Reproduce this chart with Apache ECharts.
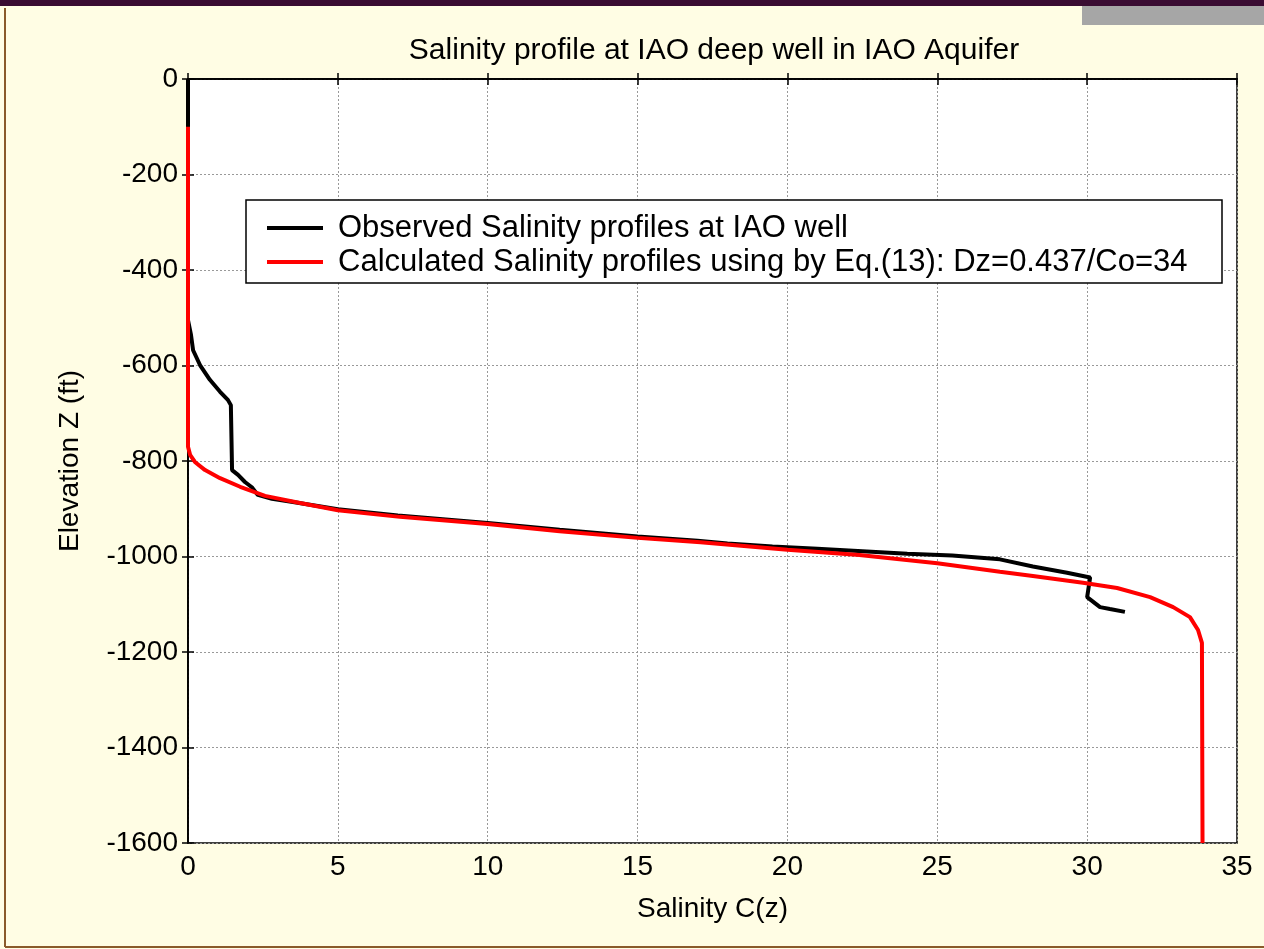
<!DOCTYPE html>
<html>
<head>
<meta charset="utf-8">
<script src="https://cdn.jsdelivr.net/npm/echarts@6/dist/echarts.min.js"></script>
<style>
  html, body { margin: 0; padding: 0; background: #fffde4; }
  #chart { width: 1264px; height: 949px; }
</style>
</head>
<body>
<div id="chart"></div>
<script>
// Salinity C(z) vs elevation Z (ft)
const observed = [
  [0, 0], [0, -505], [0.1, -536], [0.17, -568], [0.4, -599], [0.73, -630],
  [1.07, -655], [1.33, -672], [1.43, -683], [1.47, -819], [1.67, -829],
  [1.9, -844], [2.13, -855], [2.33, -871], [2.8, -879], [3.5, -886],
  [5, -901], [7, -914], [8.5, -922], [10, -930], [12.4, -944], [15, -958],
  [17, -967], [18, -973], [19.5, -979], [21, -984], [22.5, -989], [24, -994],
  [25.5, -998], [27.09, -1006], [28.19, -1021], [29.33, -1034], [30.1, -1044],
  [30.0, -1085], [30.43, -1106], [30.76, -1110], [31.26, -1116]
];
const calculated = [
  [0, -100], [0, -770], [0.07, -787], [0.23, -802], [0.57, -819],
  [1.07, -836], [1.74, -854], [2.57, -873], [3.74, -888], [5, -903],
  [7.07, -917], [10, -932], [12.4, -947], [15, -961], [17.1, -970],
  [20, -986], [22.4, -997], [25, -1014], [27.09, -1032], [28.19, -1041],
  [29.86, -1055], [31, -1066], [32.1, -1085], [32.87, -1106],
  [33.43, -1127], [33.7, -1154], [33.83, -1181], [33.85, -1600]
];
const seriesNames = [
  'Observed Salinity profiles at IAO well',
  'Calculated Salinity profiles using by Eq.(13): Dz=0.437/Co=34'
];

const font = 'Liberation Sans, Arial, sans-serif';
const chart = echarts.init(document.getElementById('chart'));

const tickStyle = { show: true, inside: true, length: 6, lineStyle: { color: '#000', width: 1.5 } };

chart.setOption({
  backgroundColor: '#fffde4',
  animation: false,
  title: {
    text: 'Salinity profile at IAO deep well in IAO Aquifer',
    left: 709, top: 31, textAlign: 'center',
    textStyle: { fontFamily: font, fontSize: 30, fontWeight: 'normal', color: '#000' }
  },
  grid: {
    left: 188, top: 79, width: 1049, height: 764,
    show: true, backgroundColor: '#fff', borderColor: '#000', borderWidth: 1.5
  },
  legend: {
    orient: 'vertical', left: 262, top: 207, z: 6,
    itemWidth: 56, itemHeight: 4, itemGap: 2, icon: 'rect',
    data: seriesNames,
    textStyle: { fontFamily: font, fontSize: 31, color: '#000', lineHeight: 32, padding: [0, 0, 0, 10] }
  },
  xAxis: [{
    type: 'value', min: 0, max: 35, interval: 5, position: 'bottom',
    name: 'Salinity C(z)', nameLocation: 'middle', nameGap: 52,
    nameTextStyle: { fontFamily: font, fontSize: 28, color: '#000' },
    axisLine: { lineStyle: { color: '#000', width: 1.5 } },
    axisTick: tickStyle,
    axisLabel: { fontFamily: font, fontSize: 28, color: '#000', margin: 10 },
    splitLine: { show: true, lineStyle: { color: '#999', type: [2, 2], width: 1 } }
  }, {
    type: 'value', min: 0, max: 35, interval: 5, position: 'top',
    axisLine: { lineStyle: { color: '#000', width: 1.5 } },
    axisTick: tickStyle, axisLabel: { show: false }, splitLine: { show: false }
  }],
  yAxis: [{
    type: 'value', min: -1600, max: 0, interval: 200, position: 'left',
    name: 'Elevation Z (ft)', nameLocation: 'middle', nameGap: 104, nameRotate: 90,
    nameTextStyle: { fontFamily: font, fontSize: 28, color: '#000' },
    axisLine: { show: true, lineStyle: { color: '#000', width: 1.5 } },
    axisTick: tickStyle,
    axisLabel: { fontFamily: font, fontSize: 28, color: '#000', margin: 10, formatter: v => String(v) },
    splitLine: { show: true, lineStyle: { color: '#999', type: [2, 2], width: 1 } }
  }, {
    type: 'value', min: -1600, max: 0, interval: 200, position: 'right',
    axisLine: { show: true, lineStyle: { color: '#000', width: 1.5 } },
    axisTick: tickStyle, axisLabel: { show: false }, splitLine: { show: false }
  }],
  series: [{
    name: seriesNames[0], type: 'line', data: observed,
    showSymbol: false, color: '#000', lineStyle: { color: '#000', width: 4 }
  }, {
    name: seriesNames[1], type: 'line', data: calculated,
    showSymbol: false, color: '#ff0000', lineStyle: { color: '#ff0000', width: 4 }
  }],
  graphic: [
    { type: 'rect', shape: { x: 0, y: 0, width: 1264, height: 6 }, style: { fill: '#3a0c32' } },
    { type: 'rect', shape: { x: 1082, y: 6, width: 182, height: 19 }, style: { fill: '#a6a6a6' } },
    { type: 'line', shape: { x1: 5, y1: 8, x2: 5, y2: 947 }, style: { stroke: '#8a5a2a', lineWidth: 2 } },
    { type: 'line', shape: { x1: 5, y1: 947, x2: 1264, y2: 947 }, style: { stroke: '#8a5a2a', lineWidth: 2 } },
    { type: 'rect', z: 3, shape: { x: 246, y: 200, width: 976, height: 83 },
      style: { fill: '#fff', stroke: '#000', lineWidth: 1.5 } }
  ]
});
</script>
</body>
</html>
